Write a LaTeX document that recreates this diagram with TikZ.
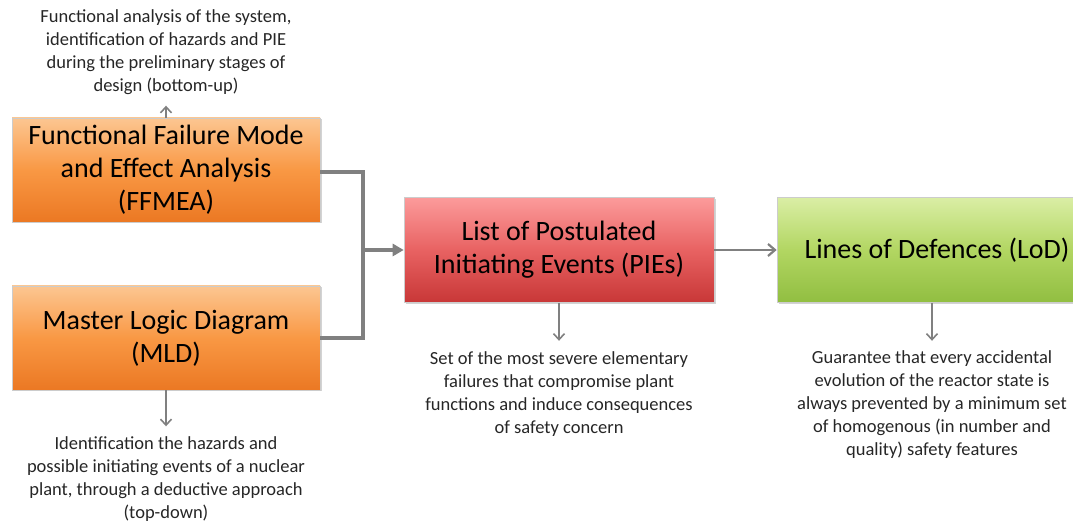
\documentclass[tikz,border=0pt]{standalone}
\usepackage{fontspec}
\setmainfont{Carlito}
\usetikzlibrary{arrows.meta,shadows}
\definecolor{linegray}{RGB}{128,128,128}
\definecolor{orTop}{RGB}{252,198,145}
\definecolor{orMid}{RGB}{249,152,68}
\definecolor{orBot}{RGB}{235,120,35}
\definecolor{rdTop}{RGB}{252,155,155}
\definecolor{rdMid}{RGB}{232,98,98}
\definecolor{rdBot}{RGB}{200,55,55}
\definecolor{gnTop}{RGB}{218,238,165}
\definecolor{gnMid}{RGB}{178,214,98}
\definecolor{gnBot}{RGB}{145,190,65}
\tikzset{
  x=1pt,y=1pt,
  mainbox/.style={draw=white!80!black, line width=0.6pt, minimum width=308pt, minimum height=104pt,
    align=center, font=\fontsize{28}{33}\selectfont, text=black,
    drop shadow={shadow xshift=1.5pt, shadow yshift=-1.5pt, opacity=0.35}},
  orbox/.style={mainbox, top color=orTop, bottom color=orBot, middle color=orMid},
  rdbox/.style={mainbox, top color=rdTop, bottom color=rdBot, middle color=rdMid, minimum width=310pt, minimum height=105pt},
  gnbox/.style={mainbox, top color=gnTop, bottom color=gnBot, middle color=gnMid, minimum width=320pt, minimum height=105pt},
  note/.style={align=center, font=\fontsize{18.5}{23}\selectfont, text=black!85},
  thick link/.style={draw=linegray, line width=3.4pt},
  big arrow/.style={draw=linegray, line width=3.4pt, -{Triangle[length=11pt,width=12pt]}},
  mid arrow/.style={draw=linegray, line width=2.4pt, -{Straight Barb[length=7pt,width=12pt,line width=2.2pt]}},
  thin arrow/.style={draw=linegray, line width=1.6pt, -{Straight Barb[length=6pt,width=11pt,line width=1.6pt]}},
}
\begin{document}
\begin{tikzpicture}
\useasboundingbox (0,0) rectangle (1073,521);
\node[orbox] (ffmea) at (166,351) {Functional Failure Mode\\and Effect Analysis\\(FFMEA)};
\node[orbox] (mld) at (166,183) {Master Logic Diagram\\(MLD)};
\node[rdbox] (pie) at (559,271) {List of Postulated\\Initiating Events (PIEs)};
\node[gnbox] (lod) at (937,271) {Lines of Defences (LoD)};

\coordinate (j1) at (363,349);
\coordinate (j2) at (363,183);
\coordinate (jm) at (363,271);

\node[note] (nffmea) at (166,469) {Functional analysis of the system,\\identification of hazards and PIE\\during the preliminary stages of\\design (bottom-up)};
\node[note] (nmld) at (166,42) {Identification the hazards and\\possible initiating events of a nuclear\\plant, through a deductive approach\\(top-down)};
\node[note] (npie) at (559,127) {Set of the most severe elementary\\failures that compromise plant\\functions and induce consequences\\of safety concern};
\node[note] (nlod) at (932,116) {Guarantee that every accidental\\evolution of the reactor state is\\always prevented by a minimum set\\of homogenous (in number and\\quality) safety features};

\draw[thick link] (ffmea.east |- j1) -- (j1) -- (j2) -- (mld.east |- j2);
\draw[big arrow] (jm) -- (pie.west);
\draw[mid arrow] (pie.east) -- (lod.west);

\draw[thin arrow] (ffmea.north) -- ++(0,12);
\draw[thin arrow] (mld.south) -- ++(0,-36);
\draw[thin arrow] (pie.south) -- ++(0,-38);
\draw[thin arrow] (lod.south -| nlod.north) -- ++(0,-38);
\end{tikzpicture}
\end{document}
